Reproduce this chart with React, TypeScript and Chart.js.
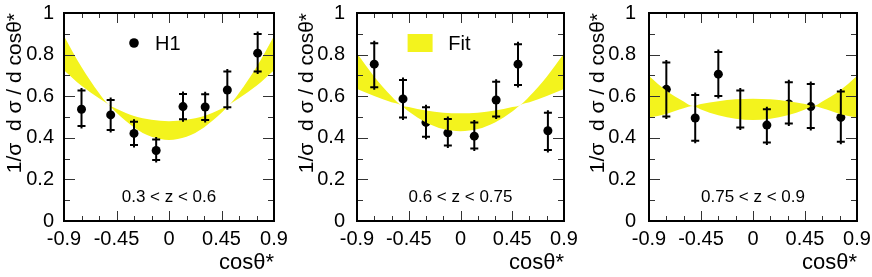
import React, { useEffect, useRef } from "react";
import { Chart, registerables } from "chart.js";

Chart.register(...registerables);

const FONT = "'Liberation Sans', Arial, Helvetica, sans-serif";
const YELLOW = "#f3f31d";

// ---- data ----
const xCenters = [-0.75, -0.5, -0.3, -0.11, 0.12, 0.31, 0.5, 0.76];

const p1Values = [0.537, 0.51, 0.421, 0.339, 0.55, 0.548, 0.63, 0.807];
const p1Hi = [0.627, 0.582, 0.477, 0.392, 0.611, 0.609, 0.719, 0.899];
const p1Lo = [0.457, 0.437, 0.365, 0.293, 0.489, 0.486, 0.547, 0.719];

const p2Values = [0.754, 0.587, 0.474, 0.424, 0.408, 0.582, 0.754, 0.434];
const p2Hi = [0.855, 0.678, 0.547, 0.49, 0.474, 0.67, 0.85, 0.521];
const p2Lo = [0.643, 0.498, 0.405, 0.363, 0.349, 0.502, 0.654, 0.341];

const p3Values = [0.633, 0.495, 0.706, 0.535, 0.461, 0.563, 0.55, 0.498];
const p3Hi = [0.762, 0.606, 0.812, 0.627, 0.537, 0.667, 0.659, 0.622];
const p3Lo = [0.502, 0.386, 0.601, 0.449, 0.378, 0.469, 0.447, 0.381];

const bandX = [-0.9, -0.75, -0.6, -0.52, -0.45, -0.3, -0.15, 0, 0.15, 0.3, 0.45, 0.52, 0.6, 0.75, 0.9];
const p1BandHi = [0.89, 0.74, 0.615, 0.56, 0.54, 0.505, 0.487, 0.48, 0.487, 0.505, 0.54, 0.56, 0.615, 0.74, 0.89];
const p1BandLo = [0.725, 0.65, 0.59, 0.56, 0.52, 0.45, 0.405, 0.39, 0.405, 0.45, 0.52, 0.56, 0.59, 0.65, 0.725];
const p2BandHi = [0.805, 0.694, 0.6, 0.558, 0.548, 0.531, 0.521, 0.518, 0.521, 0.531, 0.548, 0.558, 0.6, 0.694, 0.805];
const p2BandLo = [0.635, 0.601, 0.571, 0.558, 0.526, 0.474, 0.442, 0.432, 0.442, 0.474, 0.526, 0.558, 0.571, 0.601, 0.635];
const p3BandHi = [0.697, 0.626, 0.575, 0.553, 0.562, 0.576, 0.585, 0.588, 0.585, 0.576, 0.562, 0.553, 0.575, 0.626, 0.697];
const p3BandLo = [0.497, 0.515, 0.542, 0.553, 0.536, 0.508, 0.492, 0.486, 0.492, 0.508, 0.536, 0.553, 0.542, 0.515, 0.497];

const xMajorTicks = [-0.9, -0.45, 0, 0.45, 0.9];
const xTickLabels = ["-0.9", "-0.45", "0", "0.45", "0.9"];
const xMinorTicks = [-0.75, -0.6, -0.3, -0.15, 0.15, 0.3, 0.6, 0.75];
const yMajorTicks = [0, 0.2, 0.4, 0.6, 0.8, 1];
const yTickLabels = ["0", "0.2", "0.4", "0.6", "0.8", "1"];
const yMinorTicks = [0.1, 0.3, 0.5, 0.7, 0.9];

const xTitle = "cosθ*";
const yTitle = "1/σ  d σ / d cosθ*";
const zLabels = ["0.3 < z < 0.6", "0.6 < z < 0.75", "0.75 < z < 0.9"];

type PanelCfg = {
  zLabel: string;
  values: number[];
  hi: number[];
  lo: number[];
  bandHi: number[];
  bandLo: number[];
  legend: "H1" | "Fit" | null;
  left: number;
  width: number;
  yAxisWidth: number;
  padRight: number;
  yTitlePad: number;
  yTickPad: number;
};

const panels: PanelCfg[] = [
  { zLabel: zLabels[0], values: p1Values, hi: p1Hi, lo: p1Lo, bandHi: p1BandHi, bandLo: p1BandLo, legend: "H1",
    left: 0, width: 290, yAxisWidth: 64, padRight: 16, yTitlePad: 3, yTickPad: 10 },
  { zLabel: zLabels[1], values: p2Values, hi: p2Hi, lo: p2Lo, bandHi: p2BandHi, bandLo: p2BandLo, legend: "Fit",
    left: 290, width: 291, yAxisWidth: 67, padRight: 17, yTitlePad: 5, yTickPad: 12 },
  { zLabel: zLabels[2], values: p3Values, hi: p3Hi, lo: p3Lo, bandHi: p3BandHi, bandLo: p3BandLo, legend: null,
    left: 581, width: 291, yAxisWidth: 68, padRight: 15, yTitlePad: 5, yTickPad: 13 },
];

const HEIGHT = 277;

function Panel({ cfg }: { cfg: PanelCfg }) {
  const ref = useRef<HTMLCanvasElement>(null);

  useEffect(() => {
    const canvas = ref.current!;
    const decor = {
      id: "decor",
      afterDraw(chart: any) {
        const { ctx, chartArea: a, scales } = chart;
        const xs = scales.x;
        const ys = scales.y;
        ctx.save();
        ctx.strokeStyle = "#333";
        ctx.lineWidth = 1;
        ctx.beginPath();
        const xTick = (v: number, len: number) => {
          const px = Math.round(xs.getPixelForValue(v)) + 0.5;
          ctx.moveTo(px, a.bottom);
          ctx.lineTo(px, a.bottom - len);
          ctx.moveTo(px, a.top);
          ctx.lineTo(px, a.top + len);
        };
        const yTick = (v: number, len: number) => {
          const py = Math.round(ys.getPixelForValue(v)) + 0.5;
          ctx.moveTo(a.left, py);
          ctx.lineTo(a.left + len, py);
          ctx.moveTo(a.right, py);
          ctx.lineTo(a.right - len, py);
        };
        xMajorTicks.forEach((v) => xTick(v, 10));
        xMinorTicks.forEach((v) => xTick(v, 5));
        yMajorTicks.forEach((v) => yTick(v, 11));
        yMinorTicks.forEach((v) => yTick(v, 6));
        ctx.stroke();

        // frame
        ctx.strokeStyle = "#000";
        ctx.lineWidth = 2;
        ctx.strokeRect(a.left, a.top, a.right - a.left, a.bottom - a.top);

        // error bars
        ctx.lineWidth = 2;
        ctx.beginPath();
        xCenters.forEach((xv, i) => {
          const px = xs.getPixelForValue(xv);
          const hi = ys.getPixelForValue(cfg.hi[i]);
          const lo = ys.getPixelForValue(cfg.lo[i]);
          ctx.moveTo(px, hi - 2.5);
          ctx.lineTo(px, lo + 2.5);
          ctx.moveTo(px - 4, hi);
          ctx.lineTo(px + 4, hi);
          ctx.moveTo(px - 4, lo);
          ctx.lineTo(px + 4, lo);
        });
        ctx.stroke();

        // z range label
        ctx.fillStyle = "#000";
        ctx.font = `17px ${FONT}`;
        ctx.textAlign = "center";
        ctx.textBaseline = "middle";
        ctx.fillText(cfg.zLabel, (a.left + a.right) / 2, ys.getPixelForValue(0.115));

        // legend
        if (cfg.legend === "H1") {
          const mx = a.left + 70;
          const my = a.top + 30;
          ctx.beginPath();
          ctx.arc(mx, my, 4.8, 0, Math.PI * 2);
          ctx.fill();
          ctx.font = `20px ${FONT}`;
          ctx.textAlign = "left";
          ctx.fillText("H1", mx + 21, my + 1);
        } else if (cfg.legend === "Fit") {
          ctx.fillStyle = YELLOW;
          ctx.fillRect(a.left + 50.6, a.top + 21, 25, 18);
          ctx.fillStyle = "#000";
          ctx.font = `20px ${FONT}`;
          ctx.textAlign = "left";
          ctx.fillText("Fit", a.left + 91.3, a.top + 31);
        }
        ctx.restore();
      },
    };

    const chart = new Chart(canvas, {
      type: "scatter",
      data: {
        datasets: [
          {
            type: "line",
            data: bandX.map((x, i) => ({ x, y: cfg.bandHi[i] })),
            borderWidth: 0,
            borderColor: YELLOW,
            backgroundColor: YELLOW,
            pointRadius: 0,
            fill: "+1",
            cubicInterpolationMode: "monotone",
          } as any,
          {
            type: "line",
            data: bandX.map((x, i) => ({ x, y: cfg.bandLo[i] })),
            borderWidth: 0,
            borderColor: YELLOW,
            backgroundColor: YELLOW,
            pointRadius: 0,
            fill: false,
            cubicInterpolationMode: "monotone",
          } as any,
          {
            type: "scatter",
            data: xCenters.map((x, i) => ({ x, y: cfg.values[i] })),
            pointRadius: 4.5,
            pointBackgroundColor: "#000",
            pointBorderWidth: 0,
            borderColor: "#000",
          } as any,
        ],
      },
      options: {
        responsive: false,
        animation: false,
        devicePixelRatio: 1,
        layout: { padding: { top: 13, right: cfg.padRight, left: 0, bottom: 0 } },
        plugins: { legend: { display: false }, tooltip: { enabled: false } },
        scales: {
          x: {
            type: "linear",
            min: -0.9,
            max: 0.9,
            afterBuildTicks: (s: any) => {
              s.ticks = xMajorTicks.map((v) => ({ value: v }));
            },
            afterFit: (s: any) => {
              s.height = 56;
              s.paddingLeft = 0;
              s.paddingRight = 0;
            },
            grid: { display: false, drawTicks: false },
            border: { display: false },
            ticks: {
              autoSkip: false,
              maxRotation: 0,
              padding: 6,
              color: "#000",
              font: { family: FONT, size: 20 },
              callback: (_v: any, i: number) => xTickLabels[i],
            },
            title: {
              display: true,
              text: xTitle,
              align: "end",
              color: "#000",
              font: { family: FONT, size: 22 },
              padding: { top: 0, bottom: 1 },
            },
          },
          y: {
            type: "linear",
            min: 0,
            max: 1,
            afterBuildTicks: (s: any) => {
              s.ticks = yMajorTicks.map((v) => ({ value: v }));
            },
            afterFit: (s: any) => {
              s.width = cfg.yAxisWidth;
              s.paddingTop = 0;
              s.paddingBottom = 0;
            },
            grid: { display: false, drawTicks: false },
            border: { display: false },
            ticks: {
              autoSkip: false,
              padding: cfg.yTickPad,
              color: "#000",
              font: { family: FONT, size: 20 },
              callback: (_v: any, i: number) => yTickLabels[i],
            },
            title: {
              display: true,
              text: yTitle,
              align: "end",
              color: "#000",
              font: { family: FONT, size: 21 },
              padding: { top: cfg.yTitlePad, bottom: 0 },
            },
          },
        },
      },
      plugins: [decor],
    });
    return () => chart.destroy();
  }, [cfg]);

  return (
    <canvas
      ref={ref}
      width={cfg.width}
      height={HEIGHT}
      style={{ position: "absolute", left: cfg.left, top: 0, width: cfg.width, height: HEIGHT }}
    />
  );
}

export default function App() {
  return (
    <div style={{ position: "absolute", left: 0, top: 0, width: 872, height: HEIGHT, background: "#fff" }}>
      {panels.map((p, i) => (
        <Panel key={i} cfg={p} />
      ))}
    </div>
  );
}
